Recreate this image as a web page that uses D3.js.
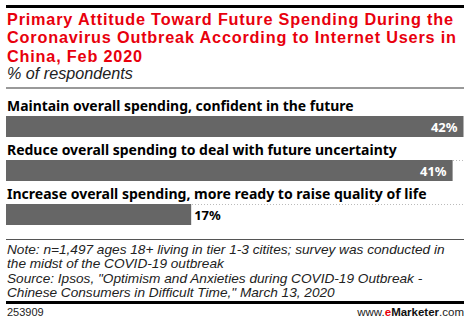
<!DOCTYPE html>
<html><head><meta charset="utf-8">
<script src="https://cdn.jsdelivr.net/npm/d3@7"></script>
<style>body{margin:0;background:#fff}svg{display:block}</style>
</head><body>
<script>
const titleLines = ["Primary Attitude Toward Future Spending During the","Coronavirus Outbreak According to Internet Users in","China, Feb 2020"];
const subtitle = "% of respondents";
const categories = ["Maintain overall spending, confident in the future","Reduce overall spending to deal with future uncertainty","Increase overall spending, more ready to raise quality of life"];
const values = [42, 41, 17];
const noteLines = ["Note: n=1,497 ages 18+ living in tier 1-3 citites; survey was conducted in","the midst of the COVID-19 outbreak","Source: Ipsos, \"Optimism and Anxieties during COVID-19 Outbreak -","Chinese Consumers in Difficult Time,\" March 13, 2020"];
const chartId = "253909";

const W = 470, H = 323, L = 6, R = 464;
const svg = d3.select("body").append("svg").attr("width", W).attr("height", H);

function fitSize(sel, target, base){
  const w = sel.node().getComputedTextLength();
  return base * target / w;
}

// top rule
svg.append("rect").attr("x", L).attr("y", 5).attr("width", R - L).attr("height", 3).attr("fill", "#000");

// title
const title = svg.append("text").attr("font-family", "Liberation Sans").attr("font-weight", "bold")
  .attr("font-size", 16).attr("fill", "#e8000d");
const tsp = titleLines.map((t, i) => title.append("tspan").attr("x", 7).attr("y", 25 + i * 18.3).text(t));
const tfs = Math.min(fitSize(tsp[0], 446, 16), 18.2 / 1.12);
title.attr("font-size", tfs);
const tw = tsp[0].node().getComputedTextLength();
const ls = Math.max(0, (446 - tw) / (titleLines[0].length - 1));
title.attr("letter-spacing", ls);

// subtitle
const sub = svg.append("text").attr("x", 7).attr("y", 79).attr("font-family", "Liberation Sans")
  .attr("font-style", "italic").attr("font-size", 15).attr("fill", "#222").text(subtitle);
sub.attr("font-size", fitSize(sub, 126, 15));

svg.append("rect").attr("x", L).attr("y", 87).attr("width", R - L).attr("height", 2).attr("fill", "#999");

const x = d3.scaleLinear().domain([0, 42]).range([L, R - 0.5]);
const y = d3.scaleBand().domain(categories).range([116, 248]).paddingInner(0).paddingOuter(0);
const barH = 21;

const labelW = [347, 390, 420];
const g = svg.append("g");
categories.forEach((c, i) => {
  const y0 = y(c);
  const lab = g.append("text").attr("x", 7).attr("y", y0 - 5)
    .attr("font-family", "Noto Sans").attr("font-weight", "bold").attr("font-size", 13)
    .attr("fill", "#000").text(c);
  lab.attr("font-size", fitSize(lab, labelW[i], 13));
  g.append("line").attr("x1", L).attr("x2", R).attr("y1", y0 + 0.5).attr("y2", y0 + 0.5)
    .attr("stroke", "#bbb").attr("stroke-dasharray", "1,2");
  g.append("rect").attr("x", L).attr("y", y0).attr("width", x(values[i]) - L).attr("height", barH).attr("fill", "#666");
  const inside = values[i] > 25;
  g.append("text").attr("x", inside ? x(values[i]) - 6 : x(values[i]) + 3)
    .attr("y", y0 + 15.5)
    .attr("text-anchor", inside ? "end" : "start")
    .attr("font-family", "Noto Sans").attr("font-weight", "bold").attr("font-size", 13)
    .attr("fill", inside ? "#fff" : "#000").text(values[i] + "%");
});

svg.append("rect").attr("x", L).attr("y", 239).attr("width", R - L).attr("height", 1).attr("fill", "#555");

// notes
const note = svg.append("text").attr("font-family", "Liberation Sans").attr("font-style", "italic")
  .attr("font-size", 13).attr("fill", "#222");
const nsp = noteLines.map((t, i) => note.append("tspan").attr("x", 7).attr("y", 254 + i * 14.3).text(t));
note.attr("font-size", fitSize(nsp[0], 438, 13));

svg.append("rect").attr("x", L).attr("y", 301).attr("width", R - L).attr("height", 3).attr("fill", "#000");

svg.append("text").attr("x", 7).attr("y", 316).attr("font-family", "Liberation Sans").attr("font-size", 11)
  .attr("fill", "#222").text(chartId);

const brand = svg.append("text").attr("x", R).attr("y", 316).attr("text-anchor", "end")
  .attr("font-family", "Liberation Sans").attr("font-size", 11.5).attr("fill", "#222");
brand.append("tspan").text("www.");
brand.append("tspan").attr("fill", "#e8000d").attr("font-weight", "bold").text("e");
brand.append("tspan").attr("font-weight", "bold").attr("fill", "#111").text("Marketer");
brand.append("tspan").text(".com");
</script>
</body></html>
